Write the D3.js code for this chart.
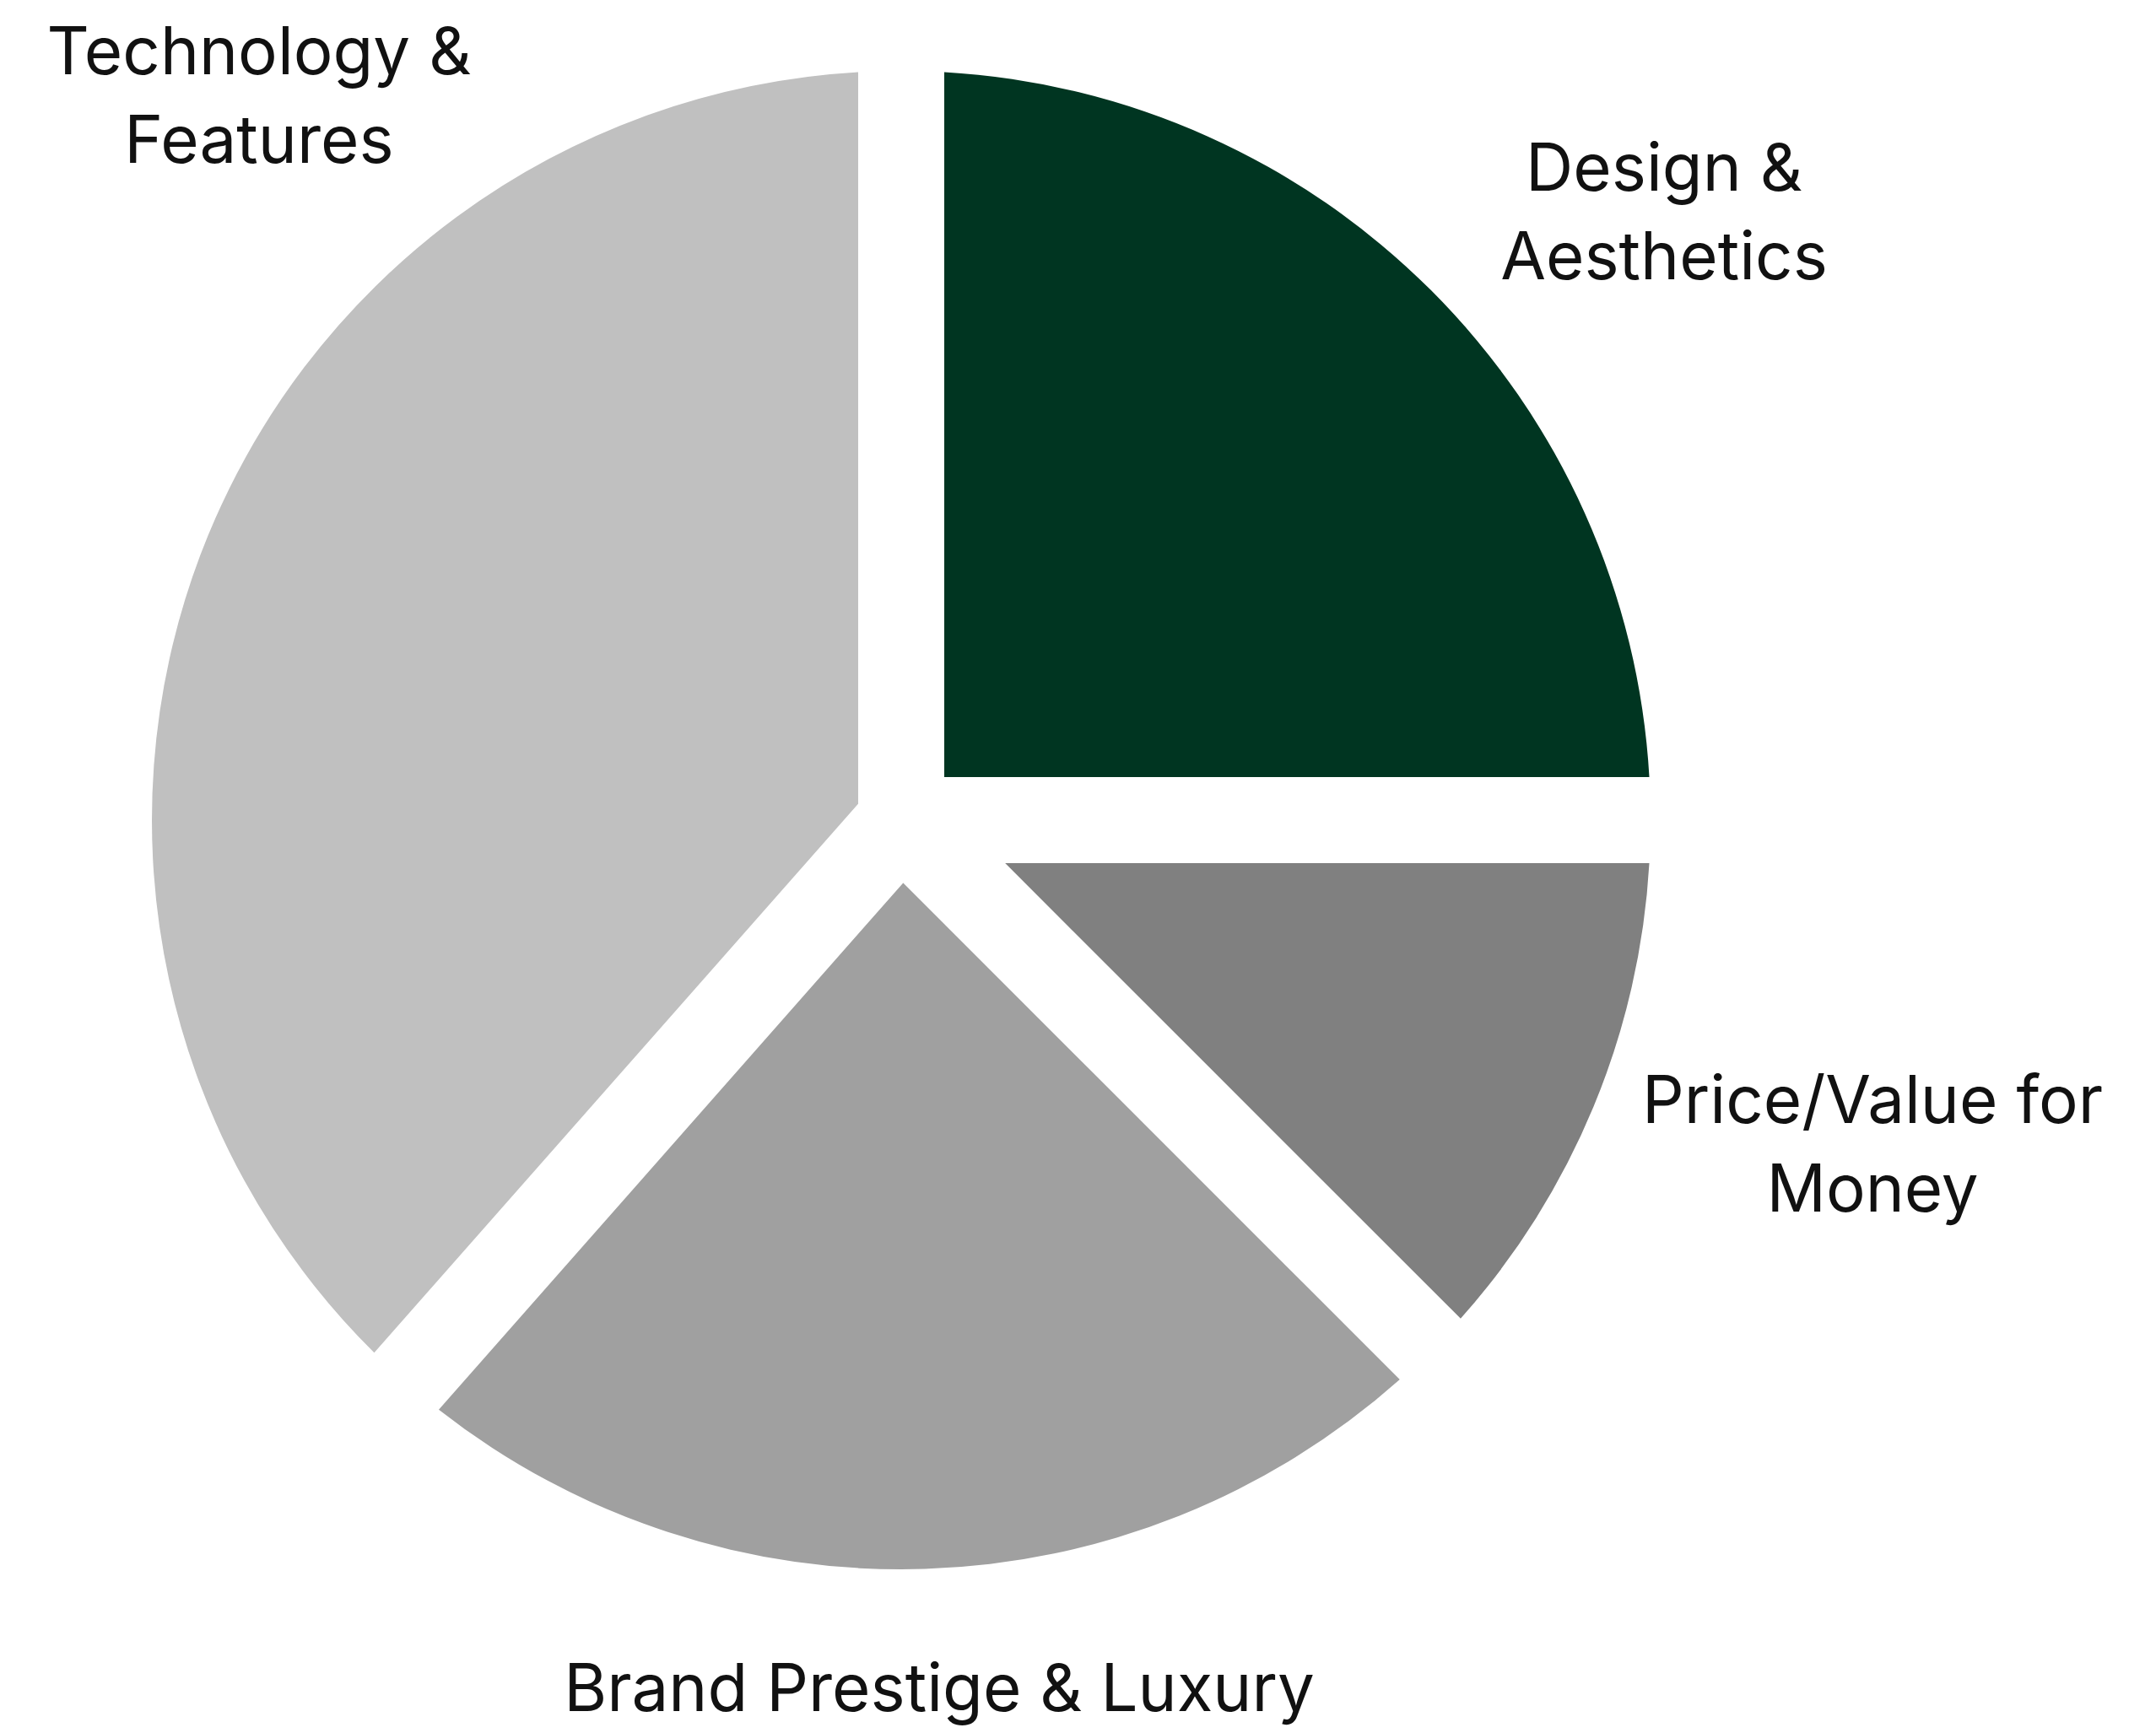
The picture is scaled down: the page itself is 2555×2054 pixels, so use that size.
<!DOCTYPE html>
<html>
<head>
<meta charset="utf-8">
<script src="https://cdn.jsdelivr.net/npm/d3@7"></script>
<style>
  html, body { margin: 0; padding: 0; background: #ffffff; }
  svg { display: block; }
</style>
</head>
<body>
<script>
// Purchase-driver shares, clockwise from 12 o'clock
const categories = ["Design & Aesthetics", "Price/Value for Money", "Brand Prestige & Luxury", "Technology & Features"];
const shares = [25, 12.5, 24, 38.5];
const labelLines = [["Design &", "Aesthetics"], ["Price/Value for", "Money"], ["Brand Prestige & Luxury"], ["Technology &", "Features"]];

// Presentation
const sliceColors = ["#003521", "#808080", "#a0a0a0", "#c0c0c0"];
const W = 2555, H = 2054;
const cx = 1068, cy = 972, R = 888;
const halfGap = 51;            // half-width of the white strips between slices
const fontSize = 78, lineStep = 105;
// first-line baseline of each label, relative to the pie centre
const labelOffsets = [[904, -746], [1151, 359], [45, 1056], [-761, -884]];

const svg = d3.select("body").append("svg")
  .attr("width", W).attr("height", H)
  .attr("viewBox", `0 0 ${W} ${H}`);

svg.append("rect").attr("width", W).attr("height", H).attr("fill", "#ffffff");

const pie = d3.pie().sort(null).value(d => d.value);
const arcs = pie(categories.map((c, i) => ({ name: c, value: shares[i], i })));

// Constant-width gaps: the pad is a fixed linear distance on the rim, and the
// inner radius is set so the padded inner edge collapses to the apex where
// the two offset edges meet.
const arc = d3.arc()
  .outerRadius(R)
  .innerRadius(d => (halfGap / Math.sin((d.endAngle - d.startAngle) / 2)) * 1.0005)
  .padRadius(R)
  .padAngle(2 * Math.asin(halfGap / R));

const g = svg.append("g").attr("transform", `translate(${cx},${cy})`);

g.selectAll("path.slice")
  .data(arcs)
  .join("path")
  .attr("class", "slice")
  .attr("d", arc)
  .attr("fill", d => sliceColors[d.data.i]);

const labels = g.selectAll("text.label")
  .data(arcs)
  .join("text")
  .attr("class", "label")
  .attr("text-anchor", "middle")
  .attr("font-family", "Inter, 'Noto Sans', sans-serif")
  .attr("font-size", fontSize)
  .attr("fill", "#111111")
  .attr("x", d => labelOffsets[d.data.i][0])
  .attr("y", d => labelOffsets[d.data.i][1]);

labels.selectAll("tspan")
  .data(d => labelLines[d.data.i].map((t, k) => ({ t, k, x: labelOffsets[d.data.i][0] })))
  .join("tspan")
  .attr("x", d => d.x)
  .attr("dy", d => d.k === 0 ? 0 : lineStep)
  .text(d => d.t);
</script>
</body>
</html>
